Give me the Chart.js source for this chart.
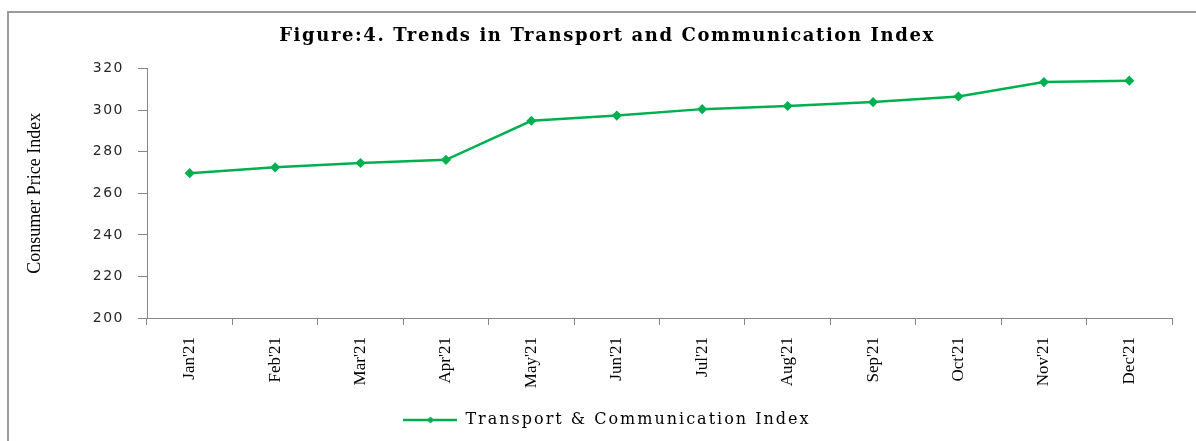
<!DOCTYPE html>
<html>
<head>
<meta charset="utf-8">
<script src="https://cdn.jsdelivr.net/npm/chart.js@4"></script>
<style>
  body { margin: 0; background: #fff; }
  #wrap { position: relative; width: 1196px; height: 441px; overflow: hidden; }
  #frame { position: absolute; left: 7px; top: 11px; width: 1300px; height: 500px;
           border-left: 2px solid #9c9c9c; border-top: 2px solid #9c9c9c; }
  canvas { position: absolute; left: 0; top: 0; }
</style>
</head>
<body>
<div id="wrap">
  <div id="frame"></div>
  <canvas id="cpiChart" width="1196" height="441"></canvas>
</div>
<script>
const months = ["Jan'21", "Feb'21", "Mar'21", "Apr'21", "May'21", "Jun'21",
                "Jul'21", "Aug'21", "Sep'21", "Oct'21", "Nov'21", "Dec'21"];
const transportIndex = [269.7, 272.5, 274.6, 276.1, 294.9, 297.4,
                        300.5, 302.0, 303.9, 306.6, 313.5, 314.2];
const yMin = 200;
const yMax = 320;
const yStep = 20;

const green = '#00B050';

// legend marker: line with a diamond in the middle
function legendMarker() {
  const c = document.createElement('canvas');
  c.width = 54;
  c.height = 10;
  const g = c.getContext('2d');
  g.strokeStyle = green;
  g.lineWidth = 2.5;
  g.beginPath();
  g.moveTo(0, 5);
  g.lineTo(54, 5);
  g.stroke();
  g.fillStyle = green;
  g.beginPath();
  g.moveTo(27, 1.5);
  g.lineTo(30.5, 5);
  g.lineTo(27, 8.5);
  g.lineTo(23.5, 5);
  g.closePath();
  g.fill();
  return c;
}

// Chart.js has no letter spacing option, so wrap some methods to set it on the context
function withSpacing(box, spacing, names) {
  if (!box || box._spaced) return;
  box._spaced = true;
  names.forEach(name => {
    const orig = box[name];
    if (!orig) return;
    box[name] = function (...args) {
      const c = this.ctx;
      const prev = c.letterSpacing;
      c.letterSpacing = spacing;
      const r = orig.apply(this, args);
      c.letterSpacing = prev;
      return r;
    };
  });
}

const spacingPlugin = {
  id: 'spacing',
  beforeLayout(chart) {
    withSpacing(chart.titleBlock, '1.6px', ['fit', 'draw']);
    withSpacing(chart.legend, '2px', ['fit', 'draw']);
    withSpacing(chart.scales.y, '1.5px', ['drawLabels']);
  }
};

const ctx = document.getElementById('cpiChart').getContext('2d');
new Chart(ctx, {
  type: 'line',
  data: {
    labels: months,
    datasets: [{
      label: 'Transport & Communication Index',
      data: transportIndex,
      borderColor: green,
      backgroundColor: green,
      borderWidth: 2.5,
      pointStyle: 'rectRot',
      pointRadius: 3.3,
      pointBackgroundColor: green,
      pointBorderColor: green,
      tension: 0,
      fill: false
    }]
  },
  plugins: [spacingPlugin],
  options: {
    responsive: false,
    animation: false,
    layout: { padding: { left: 30, right: 12, top: 0, bottom: 3 } },
    plugins: {
      tooltip: { enabled: false },
      title: {
        display: true,
        text: 'Figure:4. Trends in Transport and Communication Index',
        color: '#000',
        font: { family: 'DejaVu Serif', size: 18, weight: 'bold' },
        padding: { top: 26, bottom: 21 }
      },
      legend: {
        position: 'bottom',
        labels: {
          usePointStyle: true,
          pointStyle: legendMarker(),
          pointStyleWidth: 54,
          boxWidth: 54,
          padding: 10,
          color: '#000',
          font: { family: 'DejaVu Serif', size: 16 }
        }
      }
    },
    scales: {
      x: {
        offset: true,
        grid: { offset: true, drawOnChartArea: false, tickLength: 7, color: '#868686' },
        border: { color: '#868686', width: 1 },
        ticks: {
          minRotation: 90,
          maxRotation: 90,
          padding: 12,
          color: '#000',
          font: { family: 'Liberation Serif', size: 17 }
        },
        afterFit: (scale) => { scale.height = 84; }
      },
      y: {
        min: yMin,
        max: yMax,
        ticks: {
          stepSize: yStep,
          padding: 14,
          color: '#262626',
          font: { family: 'DejaVu Sans', size: 14 }
        },
        grid: { drawOnChartArea: false, tickLength: 9, color: '#868686' },
        border: { color: '#868686', width: 1 },
        title: {
          display: true,
          text: 'Consumer Price Index',
          color: '#000',
          font: { family: 'Liberation Serif', size: 18 },
          padding: { top: -6, bottom: 0 }
        },
        afterFit: (scale) => { scale.width = 117; }
      },
      // empty right-hand spacer so the plot ends where the reference's does
      yRight: {
        position: 'right',
        display: true,
        grid: { display: false },
        border: { display: false },
        ticks: { display: false },
        afterFit: (scale) => { scale.width = 12; }
      }
    }
  }
});
</script>
</body>
</html>
